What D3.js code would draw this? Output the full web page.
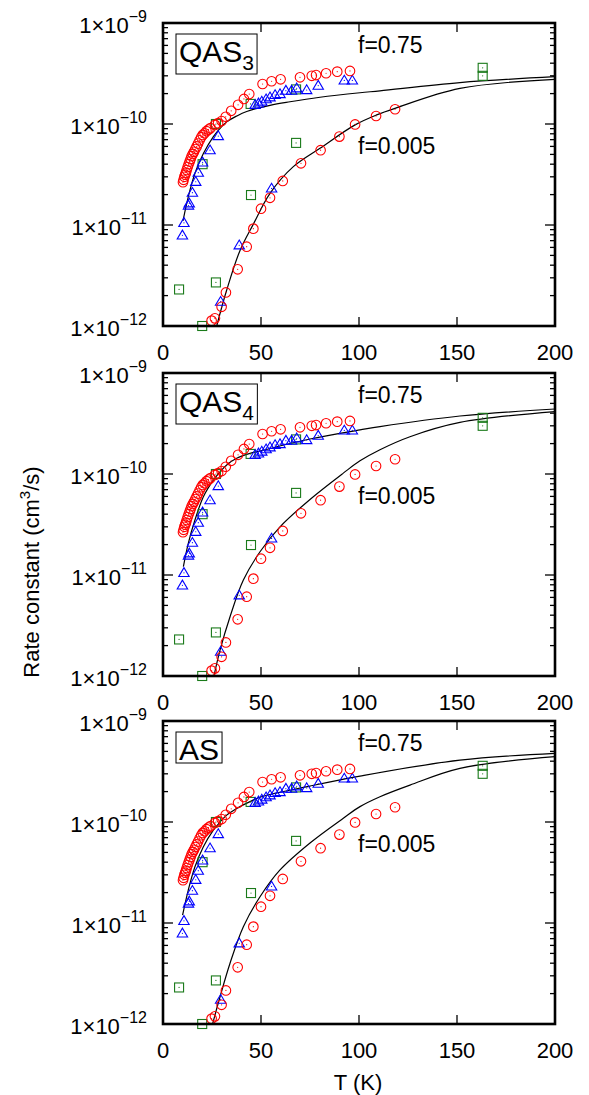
<!DOCTYPE html>
<html>
<head>
<meta charset="utf-8">
<script src="https://cdn.jsdelivr.net/npm/d3@7"></script>
<style>
  html, body { margin: 0; padding: 0; background: #fff; }
  svg { display: block; font-family: "Liberation Sans", Arial, Helvetica, sans-serif; }
</style>
</head>
<body>
<svg id="chart" width="589" height="1095"></svg>
<script>
// ---- data: temperature (K) and rate constant (cm^3/s) ----
const panelNames = ["QAS", "QAS", "AS"];
const panelSubs = ["3", "4", ""];
const xTicks = [0, 50, 100, 150, 200];
const yTicks = [1e-9, 1e-10, 1e-11, 1e-12];
const yTickExp = ["\u22129", "\u221210", "\u221211", "\u221212"];

// red circles
const redT = [10.2, 10.5, 10.9, 11.3, 11.7, 12.1, 12.6, 13.1, 13.6, 14.1, 14.6, 15.2, 15.8, 16.5, 17.2, 17.9, 18.7, 19.5, 20.3, 21.2, 22.2, 23.2, 24.2, 26.5, 28.1, 29.9, 32.0, 34.8, 38.3, 41.3, 44.0, 50.8, 55.4, 60.0, 69.9, 75.9, 78.1, 83.2, 88.9, 95.4,
              24.8, 26.5, 29.9, 32.1, 38.1, 42.7, 46.1, 50.0, 54.6, 61.1, 70.4, 80.4, 90.0, 98.0, 108.7, 118.4];
const redK = [2.65e-11, 2.8e-11, 3.0e-11, 3.15e-11, 3.3e-11, 3.5e-11, 3.75e-11, 4.0e-11, 4.25e-11, 4.5e-11, 4.8e-11, 5.05e-11, 5.3e-11, 5.65e-11, 6.0e-11, 6.4e-11, 6.9e-11, 7.4e-11, 7.8e-11, 8.1e-11, 8.5e-11, 8.8e-11, 9.1e-11, 9.8e-11, 1.02e-10, 1.07e-10, 1.18e-10, 1.35e-10, 1.55e-10, 1.77e-10, 1.98e-10, 2.49e-10, 2.65e-10, 2.77e-10, 2.9e-10, 3.0e-10, 3.05e-10, 3.18e-10, 3.3e-10, 3.35e-10,
              1.13e-12, 1.19e-12, 1.55e-12, 2.15e-12, 3.64e-12, 6.1e-12, 9.2e-12, 1.45e-11, 1.86e-11, 2.73e-11, 4.08e-11, 5.5e-11, 7.5e-11, 9.9e-11, 1.2e-10, 1.4e-10];

// blue triangles
const blueT = [9.9, 10.7, 13.0, 13.4, 15.0, 16.7, 18.0, 20.2, 24.0, 28.2, 47.0, 48.7, 50.4, 52.6, 54.6, 57.2, 59.7, 62.7, 65.6, 68.2, 73.3, 79.2, 92.5, 96.6,
               29.4, 38.9, 55.4];
const blueK = [7.9e-12, 1.05e-11, 1.56e-11, 1.64e-11, 2.09e-11, 2.68e-11, 3.3e-11, 4.17e-11, 5.5e-11, 7.6e-11, 1.55e-10, 1.6e-10, 1.67e-10, 1.76e-10, 1.84e-10, 1.94e-10, 1.98e-10, 2.14e-10, 2.14e-10, 2.26e-10, 2.17e-10, 2.4e-10, 2.7e-10, 2.7e-10,
               1.74e-12, 6.3e-12, 2.3e-11];

// green squares
const greenT = [8.2, 20.0, 27.0, 44.9, 67.9, 20.2, 27.0, 44.7, 67.9, 163.1, 163.1];
const greenK = [2.3e-12, 1.0e-12, 2.7e-12, 1.98e-11, 6.5e-11, 4.0e-11, 1.0e-10, 1.58e-10, 2.2e-10, 3.6e-10, 3.0e-10];

// model curves, f = 0.75 and f = 0.005, one pair per panel
const curveHighT = [
  [10.2, 12.9, 16.3, 20.6, 25.7, 29.1, 32.5, 37.6, 42.7, 54.6, 64.8, 80.1, 100.5, 110.7, 151.5, 200],
  [10.4, 12.9, 16.3, 20.6, 25.7, 29.1, 32.5, 37.6, 44.4, 49.5, 75, 100.5, 110.7, 151.5, 200],
  [10.0, 12.9, 16.3, 20.6, 25.7, 29.1, 32.5, 37.6, 44.4, 49.5, 75, 100.5, 151.5, 200]
];
const curveHighK = [
  [1.1e-11, 1.9e-11, 3.25e-11, 5.1e-11, 7.5e-11, 9.05e-11, 1.05e-10, 1.2e-10, 1.33e-10, 1.53e-10, 1.66e-10, 1.84e-10, 2.04e-10, 2.13e-10, 2.57e-10, 2.94e-10],
  [1.21e-11, 2.06e-11, 3.5e-11, 5.96e-11, 8.7e-11, 1.05e-10, 1.23e-10, 1.43e-10, 1.6e-10, 1.69e-10, 2.22e-10, 2.73e-10, 2.95e-10, 3.75e-10, 4.4e-10],
  [1.2e-11, 2.12e-11, 3.6e-11, 5.7e-11, 8.3e-11, 1.0e-10, 1.17e-10, 1.36e-10, 1.59e-10, 1.76e-10, 2.27e-10, 2.85e-10, 4.1e-10, 4.79e-10]
];
const curveLowT = [
  [27.4, 32.5, 39.3, 46.1, 54.6, 66.5, 80.1, 98, 109, 118.4, 151.5, 200],
  [26.0, 29.1, 34.2, 41, 49.5, 59.7, 75, 92, 100.5, 110.7, 126, 151.5, 200],
  [25.3, 29.1, 34.2, 41, 49.5, 59.7, 75, 92, 100.5, 110.7, 126, 151.5, 200]
];
const curveLowK = [
  [1.0e-12, 2.27e-12, 5.6e-12, 1.02e-11, 2.06e-11, 3.78e-11, 5.75e-11, 9.8e-11, 1.23e-10, 1.43e-10, 2.25e-10, 2.77e-10],
  [1.0e-12, 1.8e-12, 3.86e-12, 8.9e-12, 1.7e-11, 3.0e-11, 5.6e-11, 1.02e-10, 1.35e-10, 1.74e-10, 2.34e-10, 3.24e-10, 4.14e-10],
  [1.0e-12, 1.86e-12, 4.0e-12, 9.2e-12, 1.82e-11, 3.35e-11, 6.2e-11, 1.09e-10, 1.42e-10, 1.78e-10, 2.32e-10, 3.4e-10, 4.44e-10]
];
const curveLabels = ["f=0.75", "f=0.005"];

// ---- layout ----
const svg = d3.select("#chart");
const plotLeft = 163, plotRight = 555, plotH = 303;
const panelTops = [23, 373, 721];
const RED = "#ff0000", BLUE = "#0000ff", GREEN = "#1a7a1a";

const zip = (a, b) => a.map((v, i) => [v, b[i]]);

panelTops.forEach((top, p) => {
  const x = d3.scaleLinear().domain([0, 200]).range([plotLeft, plotRight]);
  const y = d3.scaleLog().domain([1e-12, 1e-9]).range([top + plotH, top]);
  const g = svg.append("g");

  // minor and major ticks on the log axis (left and right, inward)
  const minor = [];
  [-12, -11, -10].forEach(e => { for (let m = 2; m <= 9; m++) minor.push(m * Math.pow(10, e)); });
  const tickG = g.append("g").attr("stroke", "#000").attr("stroke-width", 1.3);
  minor.forEach(v => {
    tickG.append("line").attr("x1", plotLeft).attr("x2", plotLeft + 5).attr("y1", y(v)).attr("y2", y(v));
    tickG.append("line").attr("x1", plotRight).attr("x2", plotRight - 5).attr("y1", y(v)).attr("y2", y(v));
  });
  yTicks.forEach(v => {
    tickG.append("line").attr("x1", plotLeft).attr("x2", plotLeft + 10).attr("y1", y(v)).attr("y2", y(v));
    tickG.append("line").attr("x1", plotRight).attr("x2", plotRight - 10).attr("y1", y(v)).attr("y2", y(v));
  });
  xTicks.forEach(v => {
    tickG.append("line").attr("x1", x(v)).attr("x2", x(v)).attr("y1", top + plotH).attr("y2", top + plotH - 9);
    tickG.append("line").attr("x1", x(v)).attr("x2", x(v)).attr("y1", top).attr("y2", top + 9);
  });

  // y tick labels: 1×10^n
  yTicks.forEach((v, i) => {
    const t = g.append("text").attr("x", 147).attr("y", y(v) + 10)
      .attr("text-anchor", "end").attr("font-size", 22).attr("fill", "#000");
    t.append("tspan").text("1\u00d710");
    t.append("tspan").attr("dy", -11).attr("font-size", 16).text(yTickExp[i]);
  });

  // x tick labels
  xTicks.forEach(v => {
    g.append("text").attr("x", x(v)).attr("y", top + plotH + 34)
      .attr("text-anchor", "middle").attr("font-size", 22).text(v);
  });

  // model curves
  const line = d3.line().x(d => x(d[0])).y(d => y(d[1])).curve(d3.curveCatmullRom.alpha(0.5));
  [zip(curveHighT[p], curveHighK[p]), zip(curveLowT[p], curveLowK[p])].forEach(c => {
    g.append("path").attr("d", line(c)).attr("fill", "none")
      .attr("stroke", "#000").attr("stroke-width", 1.2);
  });

  // green squares
  zip(greenT, greenK).forEach(d => {
    const cx = x(d[0]), cy = y(d[1]);
    g.append("rect").attr("x", cx - 4.5).attr("y", cy - 4.5).attr("width", 9).attr("height", 9)
      .attr("fill", "none").attr("stroke", GREEN).attr("stroke-width", 1.1);
    g.append("circle").attr("cx", cx).attr("cy", cy).attr("r", 0.6).attr("fill", GREEN);
  });

  // blue triangles
  zip(blueT, blueK).forEach(d => {
    const cx = x(d[0]), cy = y(d[1]);
    g.append("path")
      .attr("d", `M${cx - 5.2},${cy + 3.6}L${cx + 5.2},${cy + 3.6}L${cx},${cy - 5.2}Z`)
      .attr("fill", "none").attr("stroke", BLUE).attr("stroke-width", 1.1);
    g.append("circle").attr("cx", cx).attr("cy", cy).attr("r", 0.6).attr("fill", BLUE);
  });

  // red circles
  zip(redT, redK).forEach(d => {
    const cx = x(d[0]), cy = y(d[1]);
    g.append("circle").attr("cx", cx).attr("cy", cy).attr("r", 4.8)
      .attr("fill", "none").attr("stroke", RED).attr("stroke-width", 1.1);
    g.append("circle").attr("cx", cx).attr("cy", cy).attr("r", 0.6).attr("fill", RED);
  });

  // curve labels
  g.append("text").attr("x", 358).attr("y", top + 30).attr("font-size", 23).text(curveLabels[0]);
  g.append("text").attr("x", 358).attr("y", top + 131).attr("font-size", 23).text(curveLabels[1]);

  // panel label in a box
  const lab = g.append("text").attr("x", 179).attr("y", top + 39).attr("font-size", 30);
  lab.append("tspan").text(panelNames[p]);
  if (panelSubs[p]) lab.append("tspan").attr("dy", 8).attr("font-size", 21).text(panelSubs[p]);
  const bb = lab.node().getBBox();
  g.append("rect").attr("x", 176).attr("y", top + 11)
    .attr("width", bb.x + bb.width - 176 + 3).attr("height", panelSubs[p] ? 40 : 31)
    .attr("fill", "none").attr("stroke", "#000").attr("stroke-width", 1);

  // frame
  g.append("rect").attr("x", plotLeft).attr("y", top).attr("width", plotRight - plotLeft).attr("height", plotH)
    .attr("fill", "none").attr("stroke", "#000").attr("stroke-width", 2.6);
});

// axis titles
svg.append("text").attr("x", 358).attr("y", 1090).attr("text-anchor", "middle")
  .attr("font-size", 22).text("T (K)");
const yl = svg.append("text").attr("transform", "translate(39,572) rotate(-90)")
  .attr("text-anchor", "middle").attr("font-size", 22);
yl.append("tspan").text("Rate constant (cm");
yl.append("tspan").attr("dy", -9).attr("font-size", 15).text("3");
yl.append("tspan").attr("dy", 9).text("/s)");
</script>
</body>
</html>
